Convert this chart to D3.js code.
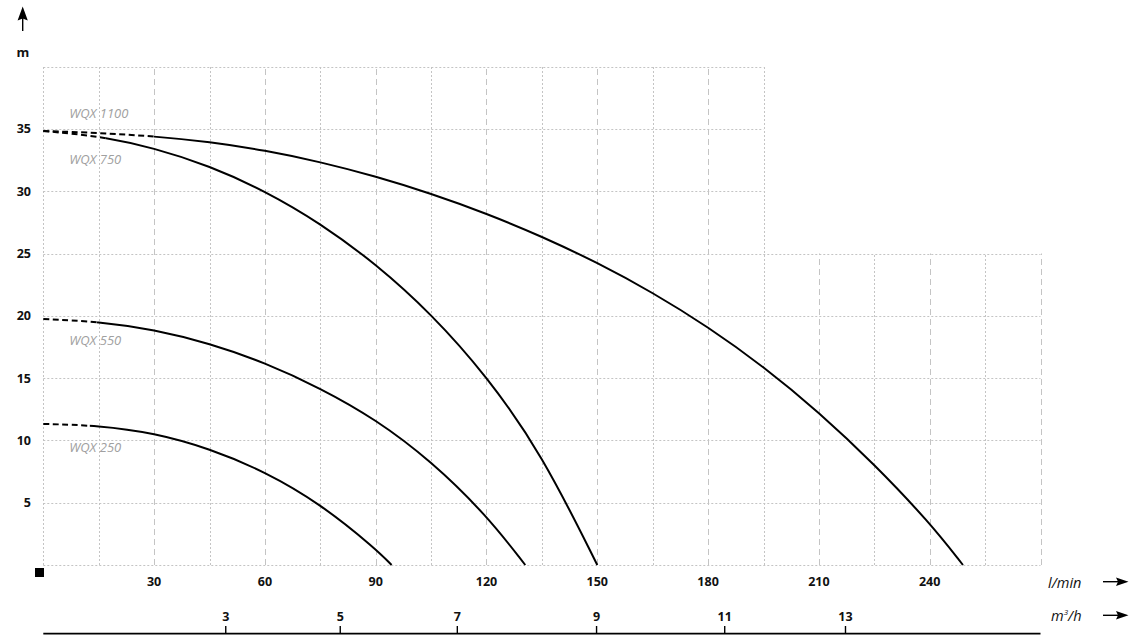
<!DOCTYPE html>
<html>
<head>
<meta charset="utf-8">
<script src="https://cdn.jsdelivr.net/npm/d3@7"></script>
<style>
  html, body { margin: 0; padding: 0; background: #fff; }
  svg { display: block; }
</style>
</head>
<body>
<svg id="chart" width="1137" height="643"></svg>
<script>
// ---------- data ----------
const flowTicks = [30, 60, 90, 120, 150, 180, 210, 240];       // l/min labels
const headTicks = [5, 10, 15, 20, 25, 30, 35];                 // m labels
const m3hTicks  = [3, 5, 7, 9, 11, 13];                        // m3/h labels
const m3hAtFlow = [49.4, 80.4, 112.1, 149.8, 184.5, 217.2];    // where each m3/h tick sits on the l/min axis

const seriesNames = ["WQX 1100", "WQX 750", "WQX 550", "WQX 250"];

const flow1100 = [0, 15, 30, 45, 60, 75, 90, 105, 120, 135, 150, 165, 180, 195, 210, 225, 240, 249];
const head1100 = [34.83, 34.68, 34.41, 33.96, 33.28, 32.35, 31.19, 29.81, 28.21, 26.37, 24.27, 21.87, 19.11, 15.93, 12.27, 8.09, 3.4, 0];

const flow750 = [0, 15, 30, 45, 60, 75, 90, 105, 120, 135, 150];
const head750 = [34.83, 34.43, 33.48, 32.03, 30.03, 27.43, 24.18, 20.18, 15.2, 8.9, 0];

const flow550 = [0, 15, 30, 45, 60, 75, 90, 105, 120, 130.5];
const head550 = [19.74, 19.54, 18.89, 17.79, 16.24, 14.2, 11.7, 8.35, 4.0, 0];

const flow250 = [0, 15, 30, 45, 60, 75, 90, 94.3];
const head250 = [11.32, 11.2, 10.6, 9.35, 7.5, 4.92, 1.3, 0];

const dashedUntil = [30, 17, 14.5, 12.6];   // flow (l/min) where each dashed start ends

// ---------- layout ----------
const svg = d3.select("#chart");
const x = d3.scaleLinear().domain([0, 270]).range([43.3, 1040.5]);
const y = d3.scaleLinear().domain([0, 40]).range([565, 66.6]);

const FONT = "'Open Sans', 'DejaVu Sans', sans-serif";
const gridColor = "#c4c4c4";

// ---------- grid ----------
const grid = svg.append("g");
d3.range(0, 271, 15).forEach(f => {
  const top = f <= 195 ? 40 : 25;
  const major = (f % 30 === 0) && f !== 0;
  grid.append("line")
    .attr("x1", Math.round(x(f)) + 0.5).attr("x2", Math.round(x(f)) + 0.5)
    .attr("y1", y(0)).attr("y2", y(top))
    .attr("stroke", gridColor).attr("stroke-width", 1)
    .attr("stroke-dasharray", major ? "6,4" : "2,2");
});
d3.range(0, 41, 5).forEach(h => {
  const right = h <= 25 ? 270 : 195;
  grid.append("line")
    .attr("x1", x(0)).attr("x2", x(right))
    .attr("y1", Math.round(y(h)) + 0.5).attr("y2", Math.round(y(h)) + 0.5)
    .attr("stroke", gridColor).attr("stroke-width", 1)
    .attr("stroke-dasharray", "2,2");
});

// ---------- curves ----------
const series = [
  { name: seriesNames[0], flow: flow1100, head: head1100, dash: dashedUntil[0] },
  { name: seriesNames[1], flow: flow750,  head: head750,  dash: dashedUntil[1] },
  { name: seriesNames[2], flow: flow550,  head: head550,  dash: dashedUntil[2] },
  { name: seriesNames[3], flow: flow250,  head: head250,  dash: dashedUntil[3] }
];

const line = d3.line().x(d => x(d[0])).y(d => y(d[1])).curve(d3.curveBasis);
const defs = svg.append("defs");

series.forEach((s, i) => {
  const pts = s.flow.map((f, k) => [f, s.head[k]]);
  defs.append("clipPath").attr("id", "cd" + i)
    .append("rect").attr("x", 0).attr("y", 0).attr("width", x(s.dash)).attr("height", 643);
  defs.append("clipPath").attr("id", "cs" + i)
    .append("rect").attr("x", x(s.dash)).attr("y", 0).attr("width", 1137).attr("height", 643);
  svg.append("path").attr("d", line(pts)).attr("fill", "none")
    .attr("stroke", "#000").attr("stroke-width", 2)
    .attr("stroke-dasharray", "6,3.5").attr("clip-path", "url(#cd" + i + ")");
  svg.append("path").attr("d", line(pts)).attr("fill", "none")
    .attr("stroke", "#000").attr("stroke-width", 2)
    .attr("clip-path", "url(#cs" + i + ")");
});

// series labels (offsets relative to each curve's start)
const labelDy = [-13, 33, 26, 28];
series.forEach((s, i) => {
  svg.append("text")
    .attr("x", x(7)).attr("y", y(s.head[0]) + labelDy[i])
    .attr("font-family", FONT).attr("font-style", "italic")
    .attr("font-size", 13).attr("fill", "#a0a0a0")
    .text(s.name);
});

// ---------- y axis ----------
svg.selectAll(".ytick").data(headTicks).enter().append("text")
  .attr("x", 31).attr("y", d => y(d)).attr("dy", "0.36em")
  .attr("text-anchor", "end")
  .attr("font-family", FONT).attr("font-weight", 700).attr("font-size", 12.5)
  .attr("fill", "#111").text(d => d);

svg.append("text").attr("x", 22.8).attr("y", 57)
  .attr("text-anchor", "middle")
  .attr("font-family", FONT).attr("font-weight", 700).attr("font-size", 13)
  .attr("fill", "#111").text("m");

// up arrow
svg.append("line").attr("x1", 22.7).attr("x2", 22.7).attr("y1", 31).attr("y2", 16)
  .attr("stroke", "#000").attr("stroke-width", 1.4);
svg.append("path").attr("d", "M22.7,6.5 L27.8,20.5 L22.7,18.5 L17.6,20.5 Z").attr("fill", "#000");

// origin square
svg.append("rect").attr("x", 35).attr("y", 568).attr("width", 9).attr("height", 9).attr("fill", "#000");

// ---------- x axis (l/min) ----------
svg.selectAll(".xtick").data(flowTicks).enter().append("text")
  .attr("x", d => x(d)).attr("y", 581.5).attr("dy", "0.36em")
  .attr("text-anchor", "middle")
  .attr("font-family", FONT).attr("font-weight", 700).attr("font-size", 12.5)
  .attr("fill", "#111").text(d => d);

// ---------- bottom axis (m3/h) ----------
const m3 = d3.scaleLinear().domain(m3hTicks).range(m3hAtFlow.map(f => x(f)));
svg.append("line").attr("x1", x(0)).attr("x2", x(270)).attr("y1", 633.7).attr("y2", 633.7)
  .attr("stroke", "#000").attr("stroke-width", 1.8);
svg.selectAll(".mtickline").data(m3hTicks).enter().append("line")
  .attr("x1", d => m3(d)).attr("x2", d => m3(d)).attr("y1", 626).attr("y2", 633.7)
  .attr("stroke", "#000").attr("stroke-width", 1.4);
svg.selectAll(".mtick").data(m3hTicks).enter().append("text")
  .attr("x", d => m3(d)).attr("y", 616).attr("dy", "0.36em")
  .attr("text-anchor", "middle")
  .attr("font-family", FONT).attr("font-weight", 700).attr("font-size", 12.5)
  .attr("fill", "#111").text(d => d);

// unit labels + arrows
svg.append("text").attr("x", 1048).attr("y", 587.5)
  .attr("font-family", FONT).attr("font-style", "italic").attr("font-size", 14.5)
  .attr("fill", "#111").text("l/min");
const mh = svg.append("text").attr("x", 1051).attr("y", 621)
  .attr("font-family", FONT).attr("font-style", "italic").attr("font-size", 14.5)
  .attr("fill", "#111");
mh.append("tspan").text("m");
mh.append("tspan").attr("font-size", 8).attr("dy", -6).text("3");
mh.append("tspan").attr("dy", 6).text("/h");

[581.7, 615.3].forEach(ay => {
  svg.append("line").attr("x1", 1103).attr("x2", 1120).attr("y1", ay).attr("y2", ay)
    .attr("stroke", "#000").attr("stroke-width", 1.4);
  svg.append("path").attr("d", `M1128.5,${ay} L1116,${ay - 4.3} L1118,${ay} L1116,${ay + 4.3} Z`).attr("fill", "#000");
});
</script>
</body>
</html>
